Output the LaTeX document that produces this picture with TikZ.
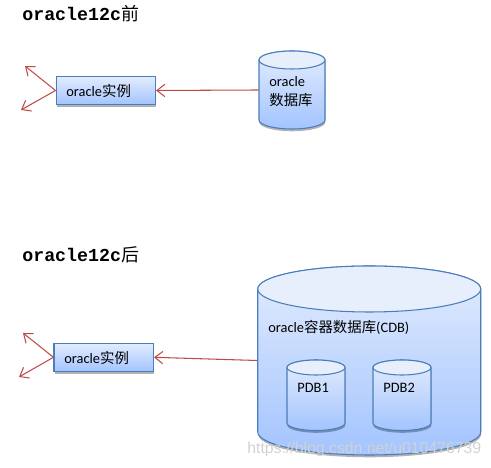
\documentclass[tikz,border=0pt]{standalone}
\usepackage{fontspec}
\usepackage{xcolor}
\setmainfont{Carlito}
\newfontfamily\cjk{Noto Sans CJK SC}
\newfontfamily\titlefont{Liberation Mono}
\newfontfamily\markfont{Liberation Sans}
\usetikzlibrary{arrows.meta,shadows}
\definecolor{edgeblue}{HTML}{4A7EBB}
\definecolor{topblue}{HTML}{E3ECFD}
\definecolor{lowblue}{HTML}{A3C4FF}
\definecolor{linkred}{HTML}{BE4B48}
\tikzset{
  lab/.style={font=\fontsize{8.2}{10}\selectfont,anchor=west,inner sep=0pt,text=black},
  headline/.style={font=\fontsize{10.4}{12}\selectfont\bfseries\titlefont,anchor=west,inner sep=0pt},
  inst/.style={draw=edgeblue,semithick,top color=topblue,bottom color=lowblue,minimum width=1.99cm,minimum height=0.57cm,inner sep=0pt,
    drop shadow={shadow xshift=0.3pt,shadow yshift=-1.3pt,opacity=0.3,fill=black}},
  link/.style={draw=linkred,semithick,-{Straight Barb[length=4.5pt,width=7pt]}},
}
\begin{document}
\begin{tikzpicture}
  \useasboundingbox (0,0) rectangle (9.82,9.36);
  % titles
  \node[headline] (head1) at (0.44,9.08) {oracle12c{\cjk\mdseries\fontsize{10.2}{12}\selectfont 前}};
  \node[headline] (head2) at (0.44,4.26) {oracle12c{\cjk\mdseries\fontsize{10.2}{12}\selectfont 后}};
  % cylinders: name/centre x/radius x/top y/radius y/bottom y
  \foreach \n/\cx/\rx/\ty/\ry/\by in {db1/5.84/0.66/8.16/0.18/6.96,cdb/7.385/2.23/3.58/0.46/0.72,pdb1/6.32/0.58/2.01/0.15/0.90,pdb2/8.04/0.58/2.01/0.15/0.90}{
    \path[draw=edgeblue,semithick,top color=topblue,bottom color=lowblue,
      drop shadow={shadow xshift=0.2pt,shadow yshift=-1.3pt,opacity=0.3,fill=black}]
      (\cx-\rx,\ty) arc[start angle=180,end angle=0,x radius=\rx,y radius=\ry]
      -- (\cx+\rx,\by) arc[start angle=360,end angle=180,x radius=\rx,y radius=\ry] -- cycle;
    \draw[edgeblue,semithick,fill=topblue!85!white] (\cx,\ty) ellipse [x radius=\rx,y radius=\ry];
    \node[minimum width=2*\rx cm,minimum height=\ty cm-\by cm,inner sep=0pt] (\n) at (\cx,{(\ty+\by)/2}) {};
  }
  % instances
  \node[inst] (inst1) at (2.116,7.55) {};
  \node[inst] (inst2) at (2.075,2.214) {};
  \coordinate (up1) at (0.5,8.04);
  \coordinate (down1) at (0.42,7.16);
  \coordinate (up2) at (0.46,2.7);
  \coordinate (down2) at (0.38,1.82);
  \draw[link] (db1.west)--(inst1.east);
  \draw[link] (cdb.west)--(inst2.east);
  \foreach \k in {1,2} {
    \draw[link] (inst\k.west)--(up\k);
    \draw[link] (inst\k.west)--(down\k);
  }
  % texts
  \node[lab] (txt1) at (1.32,7.55) {oracle{\cjk 实例}};
  \node[lab] (txt2) at (1.28,2.21) {oracle{\cjk 实例}};
  \node[lab] (txt3) at (5.38,7.72) {oracle};
  \node[lab] (txt4) at (5.38,7.36) {\cjk 数据库};
  \node[lab] (txt5) at (5.36,2.82) {oracle{\cjk 容器数据库}(CDB)};
  \node[lab] (txt6) at (5.94,1.60) {PDB1};
  \node[lab] (txt7) at (7.66,1.60) {PDB2};
  \node[font=\fontsize{9}{11}\selectfont\markfont,text=gray!35,anchor=west,inner sep=0pt] (mark) at (4.94,0.38) {https://blog.csdn.net/u010476739};
\end{tikzpicture}
\end{document}
